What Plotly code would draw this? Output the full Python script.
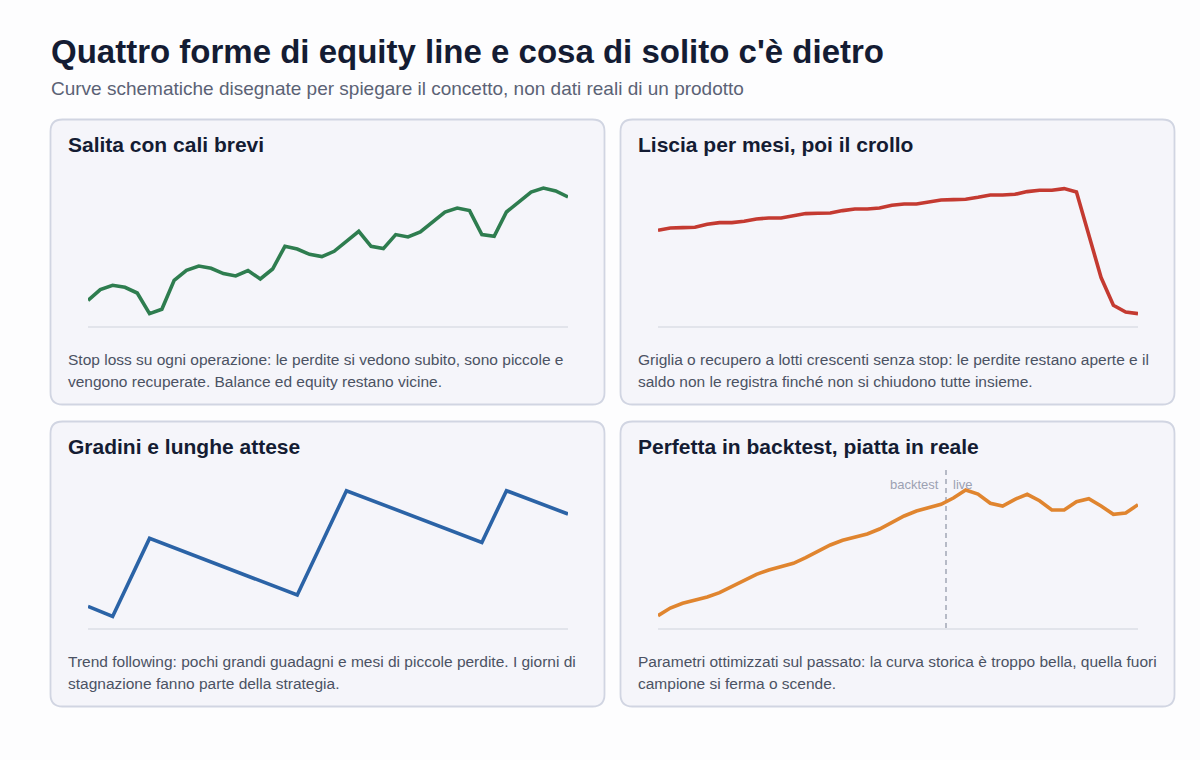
import plotly.graph_objects as go

# ---------------- data ----------------
TITLE = "Quattro forme di equity line e cosa di solito c'è dietro"
SUBTITLE = "Curve schematiche disegnate per spiegare il concetto, non dati reali di un prodotto"

panel_titles = [
    "Salita con cali brevi",
    "Liscia per mesi, poi il crollo",
    "Gradini e lunghe attese",
    "Perfetta in backtest, piatta in reale",
]
panel_notes = [
    ["Stop loss su ogni operazione: le perdite si vedono subito, sono piccole e",
     "vengono recuperate. Balance ed equity restano vicine."],
    ["Griglia o recupero a lotti crescenti senza stop: le perdite restano aperte e il",
     "saldo non le registra finché non si chiudono tutte insieme."],
    ["Trend following: pochi grandi guadagni e mesi di piccole perdite. I giorni di",
     "stagnazione fanno parte della strategia."],
    ["Parametri ottimizzati sul passato: la curva storica è troppo bella, quella fuori",
     "campione si ferma o scende."],
]

steps = list(range(40))

green_equity = [25.7, 36.4, 40.7, 38.7, 33.0, 12.4, 16.7, 45.7, 55.7, 60.0,
                57.7, 52.4, 50.0, 55.4, 47.0, 57.0, 79.7, 77.0, 71.7, 69.4,
                74.7, 85.0, 94.7, 79.7, 77.4, 91.4, 89.0, 94.0, 104.0, 114.0,
                118.0, 115.4, 91.4, 89.7, 114.0, 124.0, 134.0, 138.0, 135.0, 129.0]

red_equity = [95.7, 98.0, 98.4, 98.7, 101.7, 103.4, 103.4, 104.7, 107.0, 108.0,
              108.0, 110.0, 112.4, 112.7, 113.0, 115.4, 117.0, 117.0, 118.0, 120.7,
              122.0, 122.0, 123.7, 126.0, 126.4, 126.7, 128.7, 131.0, 131.0, 131.7,
              134.4, 135.7, 135.7, 137.4, 134.0, 90.7, 48.4, 20.7, 14.0, 12.4]

blue_steps = [0, 2, 5, 17, 21, 32, 34, 39]
blue_equity = [21.6, 11.6, 89.6, 33.0, 137.3, 85.6, 137.3, 114.0]

orange_equity = [12.3, 20.0, 24.7, 28.0, 31.0, 35.3, 41.3, 48.0, 53.7, 58.0,
                 61.0, 64.7, 70.3, 77.0, 83.0, 87.7, 90.7, 94.0, 99.0, 105.7,
                 112.0, 117.0, 120.3, 123.7, 130.0, 138.0, 134.0, 124.7, 122.0, 128.7,
                 133.7, 127.3, 118.0, 118.0, 126.3, 129.3, 122.0, 113.7, 115.0, 123.3]

live_start = 23.4
split_labels = ["backtest", "live"]

colors = ["#2e7d4f", "#c43a31", "#2b63a6", "#e0852f"]

# ---------------- layout helpers ----------------
W, H = 1200, 760
FONT = "Liberation Sans, Arial, Helvetica, sans-serif"

def px(x):
    return x / W

def py(y):
    return 1 - y / H

def rounded_rect(x0, y0, x1, y1, r):
    X0, X1 = px(x0), px(x1)
    Y0, Y1 = py(y0), py(y1)
    rx, ry = r / W, r / H
    return (f"M {X0+rx},{Y0} L {X1-rx},{Y0} Q {X1},{Y0} {X1},{Y0-ry} "
            f"L {X1},{Y1+ry} Q {X1},{Y1} {X1-rx},{Y1} "
            f"L {X0+rx},{Y1} Q {X0},{Y1} {X0},{Y1+ry} "
            f"L {X0},{Y0-ry} Q {X0},{Y0} {X0+rx},{Y0} Z")

card_x = [(50.5, 604.5), (620.5, 1174.5)]
card_y = [(119.5, 404.5), (421.5, 706.5)]
plot_x = [(88, 568), (658, 1138)]
plot_base = [326, 628]
plot_h = 158

fig = go.Figure()

series = [
    (steps, green_equity),
    (steps, red_equity),
    (blue_steps, blue_equity),
    (steps, orange_equity),
]

shapes = []
annotations = []
for i in range(4):
    col, row = i % 2, i // 2
    cx0, cx1 = card_x[col]
    cy0, cy1 = card_y[row]
    shapes.append(dict(type="path", xref="paper", yref="paper",
                       path=rounded_rect(cx0, cy0, cx1, cy1, 12),
                       fillcolor="#f5f5fa", line=dict(color="#d1d5e2", width=1.8),
                       layer="below"))
    n = "" if i == 0 else str(i + 1)
    xa, ya = "xaxis" + n, "yaxis" + n
    x0p, x1p = plot_x[col]
    base = plot_base[row]
    fig.update_layout({
        xa: dict(domain=[px(x0p), px(x1p)], range=[0, 39], anchor="y" + n,
                 showgrid=False, zeroline=False, showticklabels=False, ticks="",
                 showline=True, linecolor="#e2e4eb", linewidth=2),
        ya: dict(domain=[py(base), py(base - plot_h)], range=[0, plot_h], anchor="x" + n,
                 showgrid=False, zeroline=False, showticklabels=False, ticks="",
                 showline=False),
    })
    xs, ys = series[i]
    fig.add_trace(go.Scatter(x=xs, y=ys, mode="lines", xaxis="x" + n, yaxis="y" + n,
                             line=dict(color=colors[i], width=3.6),
                             hoverinfo="skip", showlegend=False))
    # card title
    annotations.append(dict(text=f"<b>{panel_titles[i]}</b>", x=px(cx0 + 15.5), y=py(cy0 + 25),
                            xref="paper", yref="paper", xanchor="left", yanchor="middle",
                            showarrow=False, font=dict(family=FONT, size=21, color="#141c33")))
    for k, line in enumerate(panel_notes[i]):
        annotations.append(dict(text=line, x=px(cx0 + 15.5), y=py(cy0 + 240 + 22 * k),
                                xref="paper", yref="paper", xanchor="left", yanchor="middle",
                                showarrow=False, font=dict(family=FONT, size=15.5, color="#4b5263")))

# backtest / live split in panel 4
shapes.append(dict(type="line", xref="x4", yref="y4", x0=live_start, x1=live_start,
                   y0=0, y1=plot_h, line=dict(color="#b6bac6", width=2, dash="5px,4px"),
                   layer="below"))
annotations.append(dict(text=split_labels[0], x=live_start, y=144, xref="x4", yref="y4",
                        xanchor="right", yanchor="middle", xshift=-5, showarrow=False,
                        font=dict(family=FONT, size=13, color="#9ca1b2")))
annotations.append(dict(text=split_labels[1], x=live_start, y=144, xref="x4", yref="y4",
                        xanchor="left", yanchor="middle", xshift=5, showarrow=False,
                        font=dict(family=FONT, size=13, color="#9ca1b2")))

# header
annotations.append(dict(text=f"<b>{TITLE}</b>", x=px(48.5), y=py(52), xref="paper", yref="paper",
                        xanchor="left", yanchor="middle", showarrow=False,
                        font=dict(family=FONT, size=33, color="#141c33")))
annotations.append(dict(text=SUBTITLE, x=px(48.5), y=py(88), xref="paper", yref="paper",
                        xanchor="left", yanchor="middle", showarrow=False,
                        font=dict(family=FONT, size=19, color="#5b6275")))

fig.update_layout(
    width=W, height=H,
    margin=dict(l=0, r=0, t=0, b=0),
    paper_bgcolor="#fdfdfe", plot_bgcolor="rgba(0,0,0,0)",
    shapes=shapes, annotations=annotations,
    showlegend=False, hovermode=False,
    font=dict(family=FONT),
)

fig.write_html("out.html", config={"displayModeBar": False},
               post_script="document.body.style.margin='0';document.body.style.overflow='hidden';")
